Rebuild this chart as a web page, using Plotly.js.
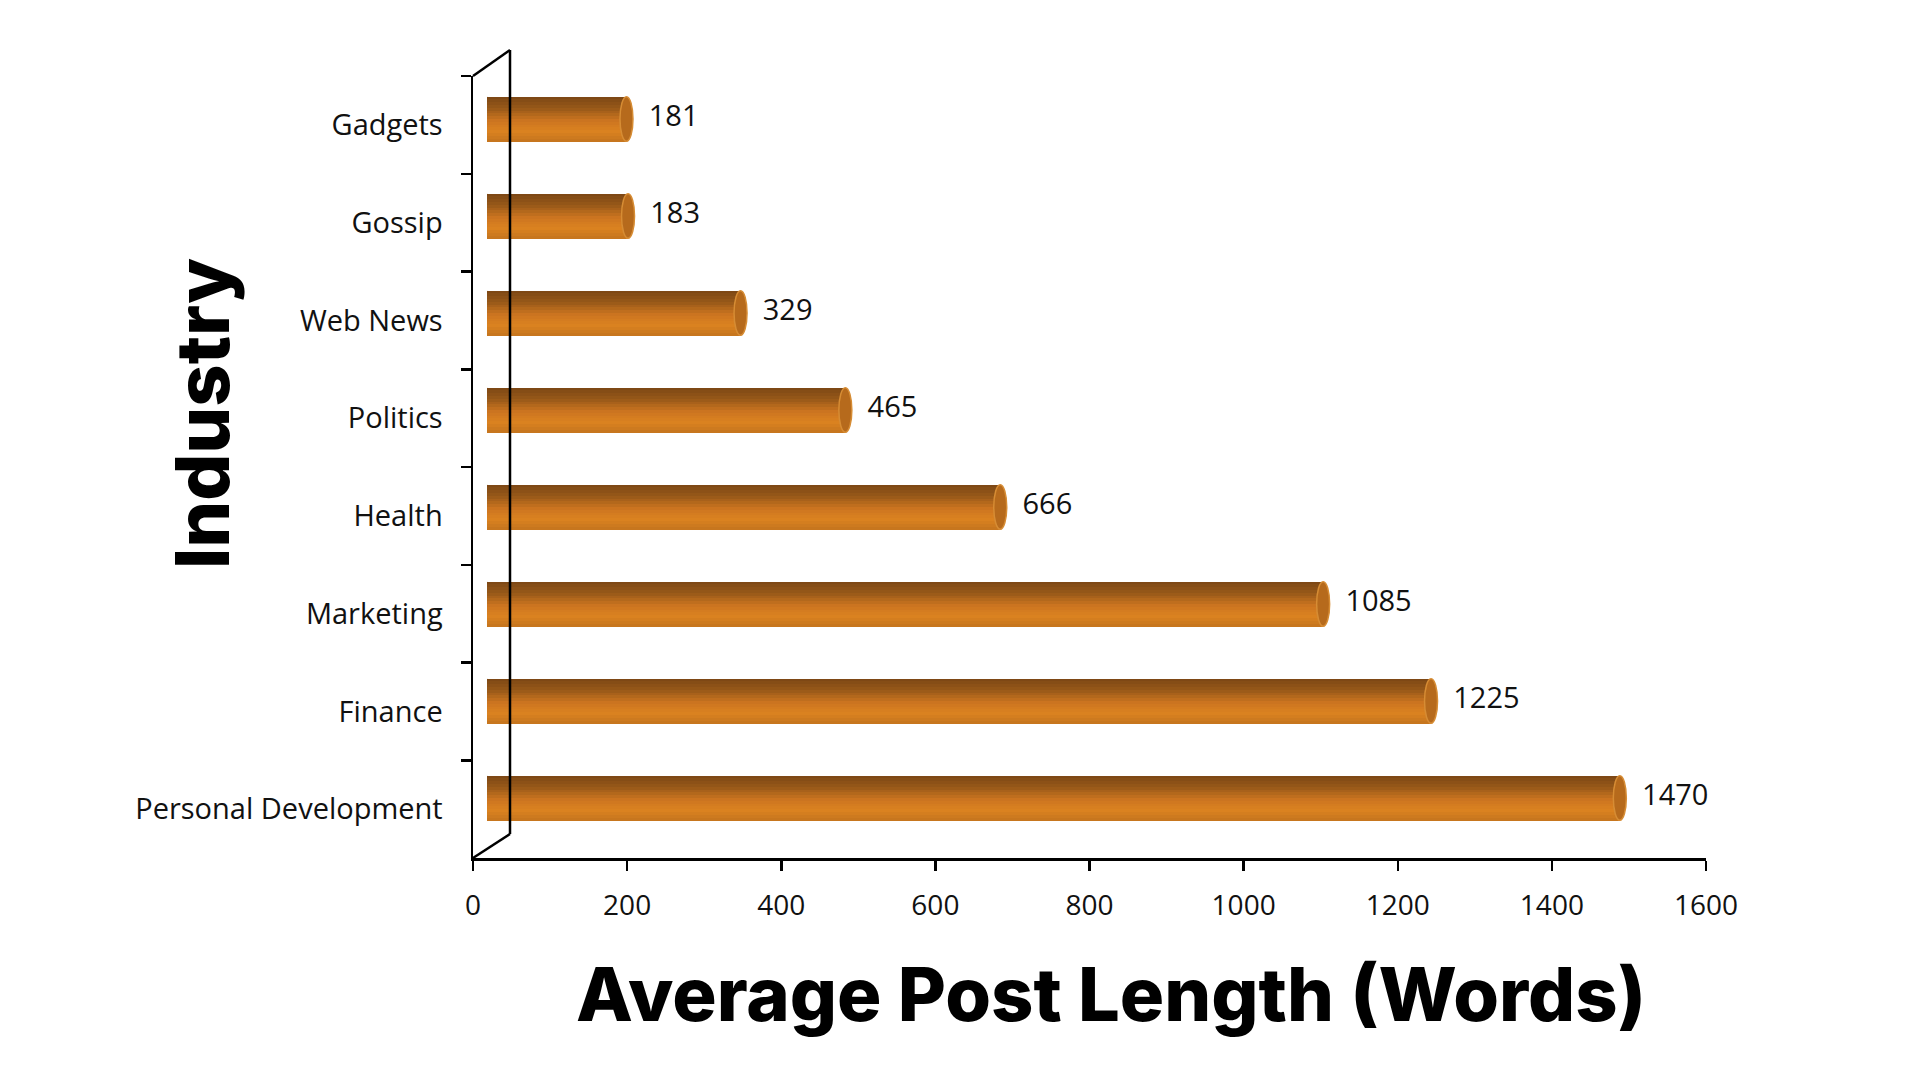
<!DOCTYPE html>
<html>
<head>
<meta charset="utf-8">
<script src="https://cdn.plot.ly/plotly-3.0.1.min.js"></script>
<style>html,body{margin:0;padding:0;background:#fff;}#chart{width:1920px;height:1080px;}</style>
</head>
<body>
<div id="chart"></div>
<script>
// ---- data ----
const industries = ["Gadgets", "Gossip", "Web News", "Politics", "Health", "Marketing", "Finance", "Personal Development"];
const avgWords = [181, 183, 329, 465, 666, 1085, 1225, 1470];
const xTickValues = [0, 200, 400, 600, 800, 1000, 1200, 1400, 1600];
const xTitle = "Average Post Length (Words)";
const yTitle = "Industry";

// ---- geometry helpers (pixels of the page) ----
const W = 1920, H = 1080;
const mL = 473, mR = 200, mT = 60, mB = 222;
const plotW = W - mL - mR, plotH = H - mT - mB;
const frontW = 1233, frontH = 782;       // front axes size in px
const depthX = 14;                       // bar plane shift (px)
const barTop = 70.5, barBottom = 846.5;  // bar plane vertical extent (page px)
const wallX = 37, wallY = 26;            // back wall shift
const px = v => (v - mL) / plotW;        // page x -> paper
const py = v => (H - mB - v) / plotH;    // page y -> paper

const idx = industries.map((_, i) => i);
const barHalf = 0.23;

// gradient stops (top -> bottom)
const stops = [[0, [122, 70, 20]], [0.25, [150, 88, 24]], [0.55, [206, 118, 32]], [0.78, [218, 130, 32]], [1, [196, 116, 30]]];
function grad(t) {
  for (let k = 0; k < stops.length - 1; k++) {
    const [a, ca] = stops[k], [b, cb] = stops[k + 1];
    if (t >= a && t <= b) {
      const f = (t - a) / (b - a);
      const c = ca.map((v, j) => Math.round(v + (cb[j] - v) * f));
      return `rgb(${c[0]},${c[1]},${c[2]})`;
    }
  }
  return 'rgb(196,116,30)';
}

const N = 16;
const traces = [];
// dummy trace on front axes so they render
traces.push({
  type: 'scatter', mode: 'markers', x: [0], y: [industries[0]],
  marker: {opacity: 0}, hoverinfo: 'skip', showlegend: false
});
for (let k = 0; k < N; k++) {
  const w = 2 * barHalf / N;
  traces.push({
    type: 'bar', orientation: 'h',
    x: avgWords, y: idx,
    xaxis: 'x2', yaxis: 'y2',
    offset: -barHalf + k * w, width: w * 1.08,
    marker: {color: grad((k + 0.5) / N), line: {width: 0}},
    hoverinfo: 'skip', showlegend: false
  });
}
// value labels
traces.push({
  type: 'scatter', mode: 'markers+text',
  x: avgWords, y: idx, xaxis: 'x2', yaxis: 'y2',
  text: avgWords.map(String), textposition: 'middle right',
  textfont: {family: 'Open Sans, Noto Sans, sans-serif', size: 29, color: '#111'},
  marker: {size: 34, opacity: 0},
  hoverinfo: 'skip', showlegend: false, cliponaxis: false
});

// cylinder caps
const capDx = 6.5 / (frontW / 1600);
const shapes = [];
avgWords.forEach((v, i) => {
  shapes.push({type: 'circle', xref: 'x2', yref: 'y2', layer: 'below',
    x0: -capDx, x1: capDx, y0: i - barHalf, y1: i + barHalf,
    fillcolor: 'rgb(170,98,26)', line: {width: 0}});
  shapes.push({type: 'circle', xref: 'x2', yref: 'y2', layer: 'above',
    x0: v - capDx, x1: v + capDx, y0: i - barHalf, y1: i + barHalf,
    fillcolor: 'rgb(182,106,28)', line: {color: 'rgb(214,140,52)', width: 1.5}});
});
// back wall frame
const lineStyle = {color: '#000', width: 2.5};
const frontTop = mT + (plotH - frontH);
shapes.push({type: 'line', xref: 'paper', yref: 'paper', x0: px(mL), y0: py(frontTop), x1: px(mL + wallX), y1: py(frontTop - wallY), line: lineStyle});
shapes.push({type: 'line', xref: 'paper', yref: 'paper', x0: px(mL + wallX), y0: py(frontTop - wallY), x1: px(mL + wallX), y1: py(H - mB - wallY + 2), line: lineStyle});
shapes.push({type: 'line', xref: 'paper', yref: 'paper', x0: px(mL + wallX), y0: py(H - mB - wallY + 2), x1: px(mL), y1: py(H - mB), line: lineStyle});

const tickFont = {family: 'Open Sans, Noto Sans, sans-serif', size: 28, color: '#111'};
const titleFont = {family: 'Inter, Lato, sans-serif', size: 74, weight: 800, color: '#000'};

const layout = {
  width: W, height: H,
  margin: {l: mL, r: mR, t: mT, b: mB},
  paper_bgcolor: '#fff', plot_bgcolor: 'rgba(0,0,0,0)',
  barmode: 'overlay', bargap: 0,
  xaxis: {
    domain: [0, frontW / plotW], range: [0, 1600],
    tickvals: xTickValues, ticktext: xTickValues.map(String),
    ticks: 'outside', ticklen: 10, tickwidth: 2.5, tickcolor: '#000',
    showline: true, linecolor: '#000', linewidth: 2.5,
    showgrid: false, zeroline: false, tickfont: tickFont, ticklabelstandoff: 11
  },
  yaxis: {
    domain: [0, frontH / plotH], type: 'category',
    categoryorder: 'array', categoryarray: industries,
    range: [industries.length - 0.5, -0.5],
    ticks: 'outside', ticklen: 10, tickwidth: 2.5, tickcolor: '#000', tickson: 'boundaries',
    showline: true, linecolor: '#000', linewidth: 2.5,
    showgrid: false, zeroline: false, tickfont: Object.assign({}, tickFont, {size: 29}), ticklabelstandoff: 22
  },
  xaxis2: {
    domain: [depthX / plotW, (frontW + depthX) / plotW], range: [0, 1600],
    anchor: 'y2', visible: false, fixedrange: true
  },
  yaxis2: {
    domain: [py(barBottom), py(barTop)],
    range: [industries.length - 0.5, -0.5],
    anchor: 'x2', visible: false, fixedrange: true
  },
  shapes: shapes,
  annotations: [{
    text: yTitle, xref: 'paper', yref: 'paper',
    x: px(202), y: py(414), xanchor: 'center', yanchor: 'middle',
    textangle: -90, showarrow: false, font: titleFont
  }, {
    text: xTitle, xref: 'paper', yref: 'paper',
    x: px(1111), y: py(994), xanchor: 'center', yanchor: 'middle',
    showarrow: false, font: titleFont
  }]
};

Plotly.newPlot('chart', traces, layout, {staticPlot: true, displayModeBar: false});
</script>
</body>
</html>
